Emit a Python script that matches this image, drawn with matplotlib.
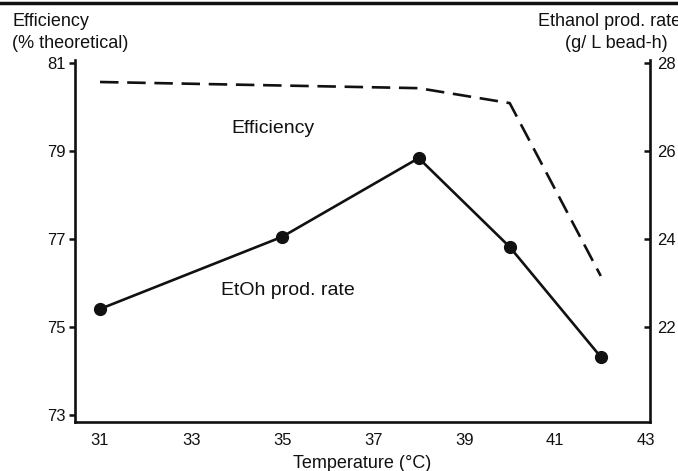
import matplotlib
matplotlib.use("Agg")
import matplotlib.pyplot as plt
from matplotlib.lines import Line2D

plt.rcParams['font.family'] = ['Liberation Sans', 'DejaVu Sans']

# Temperatures (deg C)
temperature = [31, 35, 38, 40, 42]
# Efficiency, % of theoretical (left axis)
efficiency_temp = [31, 38, 40, 42]
efficiency = [80.57, 80.43, 80.09, 76.16]
# Ethanol production rate, g/L bead-h (right axis)
etoh_rate = [22.41, 24.05, 25.84, 23.82, 21.32]

left_ticks = [73, 75, 77, 79, 81]
right_ticks = [22, 24, 26, 28]
x_ticks = [31, 33, 35, 37, 39, 41, 43]

ink = '#111111'

fig = plt.figure(figsize=(6.78, 4.71), dpi=100)
ax = fig.add_axes([0.1106, 0.104, 0.848, 0.7686])
ax2 = ax.twinx()

# dashed efficiency curve on the left scale
ax.plot(efficiency_temp, efficiency, color=ink, linewidth=1.9,
        linestyle=(0, (7, 3.3)), solid_capstyle='butt')

# solid production-rate curve on the right scale
ax2.plot(temperature, etoh_rate, color=ink, linewidth=1.9,
         marker='o', markersize=8.5)

ax.set_xlim(30.45, 43.08)
ax.set_ylim(72.84, 81.07)
ax2.set_ylim(19.84, 28.07)

ax.set_xticks(x_ticks)
ax.set_yticks(left_ticks)
ax2.set_yticks(right_ticks)

ax.tick_params(axis='x', length=0, pad=8, labelsize=12, colors=ink)
ax.tick_params(axis='y', direction='out', length=4, width=1.8, pad=3,
               labelsize=12, colors=ink)
ax2.tick_params(axis='y', direction='in', length=4, width=1.8, pad=5,
                labelsize=12, colors=ink)

for a in (ax, ax2):
    a.spines['top'].set_visible(False)
    for side in ('left', 'right', 'bottom'):
        a.spines[side].set_linewidth(1.9)
        a.spines[side].set_color(ink)
ax.spines['right'].set_visible(False)
ax2.spines['left'].set_visible(False)
ax2.spines['bottom'].set_visible(False)

ax.set_xlabel('Temperature (°C)', fontsize=13, color=ink, labelpad=5)

# curve labels inside the plot
ax.text(34.8, 79.52, 'Efficiency', fontsize=14, color=ink,
        ha='center', va='center')
ax2.text(35.13, 22.84, 'EtOh prod. rate', fontsize=14, color=ink,
         ha='center', va='center')

# axis titles above each axis
fig.text(12 / 678, 1 - 22 / 471, 'Efficiency', fontsize=13, color=ink,
         ha='left', va='center')
fig.text(12 / 678, 1 - 44 / 471, '(% theoretical)', fontsize=13, color=ink,
         ha='left', va='center')
fig.text(538 / 678, 1 - 22 / 471, 'Ethanol prod. rate', fontsize=13,
         color=ink, ha='left', va='center')
fig.text(616 / 678, 1 - 44 / 471, '(g/ L bead-h)', fontsize=13, color=ink,
         ha='center', va='center')

# heavy rule along the top edge
fig.add_artist(Line2D([0, 1], [1 - 2.5 / 471] * 2, color=ink,
                      linewidth=2.5, transform=fig.transFigure))

fig.savefig('out.png', dpi=100)
